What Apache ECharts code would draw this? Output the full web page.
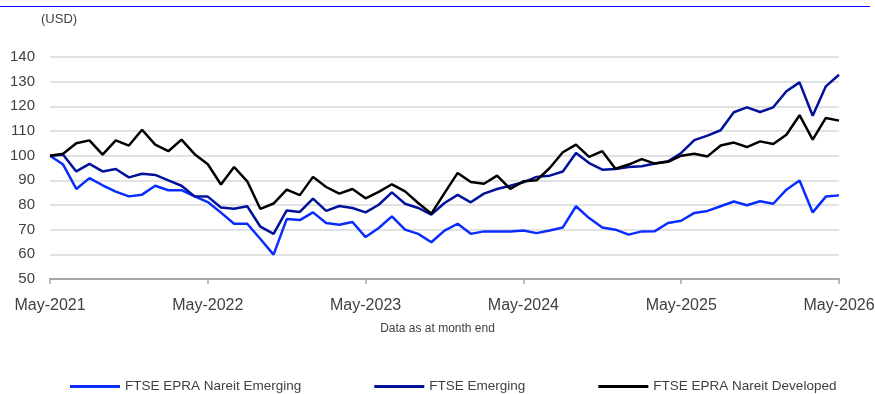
<!DOCTYPE html>
<html>
<head>
<meta charset="utf-8">
<script src="https://cdn.jsdelivr.net/npm/echarts@6/dist/echarts.min.js"></script>
<style>
  html, body { margin: 0; padding: 0; background: #fff; }
  #chart { width: 875px; height: 394px; }
</style>
</head>
<body>
<div id="chart"></div>
<script>
// Monthly index levels (USD, rebased to 100), May-2021 .. May-2026
const startYear = 2021;
const startMonth = 4; // May (0-based)
const monthNames = ['Jan','Feb','Mar','Apr','May','Jun','Jul','Aug','Sep','Oct','Nov','Dec'];
const pointCount = 61;

const nareitEmerging = [
  100, 96.4, 86.5, 90.9, 88.0, 85.4, 83.5, 84.2, 87.8, 86.0, 86.0, 83.5,
  81.2, 76.9, 72.4, 72.4, 66.2, 59.9, 74.3, 73.9, 77.0, 72.7, 72.0, 73.1,
  67.0, 70.7, 75.4, 70.0, 68.3, 64.9, 69.6, 72.4, 68.3, 69.3, 69.3, 69.3,
  69.7, 68.6, 69.7, 70.9, 79.5, 74.7, 70.9, 70.0, 68.0, 69.3, 69.4, 72.7,
  73.6, 76.8, 77.6, 79.5, 81.4, 79.9, 81.5, 80.5, 86.2, 89.9, 77.0, 83.4,
  83.9
];

const ftseEmerging = [
  100, 100.4, 93.6, 96.7, 93.6, 94.6, 91.2, 92.7, 92.2, 90.0, 87.8, 83.5,
  83.4, 79.0, 78.5, 79.5, 71.2, 68.3, 77.8, 77.2, 82.6, 77.6, 79.6, 78.8,
  77.0, 80.1, 85.1, 80.5, 78.8, 76.1, 80.8, 84.1, 81.1, 84.6, 86.5, 87.8,
  89.2, 91.4, 91.9, 93.6, 101.1, 97.0, 94.3, 94.6, 95.4, 95.7, 96.8, 97.7,
  101.1, 106.3, 108.1, 110.3, 117.6, 119.6, 117.7, 119.6, 126.1, 129.7, 116.2, 128.1,
  132.8
];

const nareitDeveloped = [
  100, 100.8, 105.0, 106.2, 100.4, 106.2, 104.1, 110.5, 104.5, 101.8, 106.5, 100.6,
  96.5, 88.3, 95.4, 89.6, 78.4, 80.6, 86.2, 84.0, 91.4, 87.3, 84.6, 86.5,
  82.7, 85.3, 88.4, 85.5, 80.8, 76.5, 84.8, 93.0, 89.3, 88.6, 91.9, 86.5,
  89.6, 90.0, 95.0, 101.4, 104.5, 99.5, 101.8, 94.7, 96.4, 98.6, 96.8, 97.5,
  100.0, 100.8, 99.7, 104.1, 105.3, 103.5, 105.8, 104.7, 108.5, 116.4, 106.5, 115.3,
  114.2
];

const seriesNames = ['FTSE EPRA Nareit Emerging', 'FTSE Emerging', 'FTSE EPRA Nareit Developed'];
const seriesColors = ['#0a2cff', '#00129a', '#000000'];
const yTicks = [50, 60, 70, 80, 90, 100, 110, 120, 130, 140];

// Month-end category labels, e.g. "May-2021"
const months = [];
for (let i = 0; i < pointCount; i++) {
  const m = startMonth + i;
  months.push(monthNames[m % 12] + '-' + (startYear + Math.floor(m / 12)));
}

const chart = echarts.init(document.getElementById('chart'));
const font = 'Liberation Sans, Arial, sans-serif';

const lineSeries = [nareitEmerging, ftseEmerging, nareitDeveloped].map((d, k) => ({
  name: seriesNames[k],
  type: 'line',
  data: d,
  symbol: 'none',
  smooth: false,
  lineStyle: { color: seriesColors[k], width: 2.5 },
  itemStyle: { color: seriesColors[k] },
  z: k === 2 ? 3 : (k === 1 ? 2 : 1)
}));

chart.setOption({
  animation: false,
  backgroundColor: '#ffffff',
  textStyle: { fontFamily: font },
  graphic: [
    { type: 'line', shape: { x1: 0, y1: 6.5, x2: 870, y2: 6.5 }, style: { stroke: '#0000ff', lineWidth: 1 } },
    { type: 'text', left: 41, top: 13, style: { text: '(USD)', font: '13px ' + font, fill: '#404040' } },
    { type: 'text', left: 'center', top: 323, style: { text: 'Data as at month end', font: '12px ' + font, fill: '#404040' } }
  ],
  grid: { left: 50, right: 36, top: 57, bottom: 115, outerBoundsMode: 'none', containLabel: false },
  legend: {
    top: 379,
    left: 70,
    padding: 0,
    itemWidth: 50,
    itemHeight: 3,
    itemGap: 73,
    icon: 'rect',
    textStyle: { fontSize: 13.5, lineHeight: 15, color: '#404040', fontFamily: font, padding: [0, 0, 0, 0] },
    data: seriesNames
  },
  xAxis: {
    type: 'category',
    data: months,
    boundaryGap: false,
    axisLine: { lineStyle: { color: '#a6a6a6', width: 2 } },
    axisTick: { show: true, interval: 11, length: 5, lineStyle: { color: '#a6a6a6', width: 1.5 } },
    axisLabel: { interval: 11, color: '#404040', fontSize: 16, margin: 19, fontFamily: font },
    splitLine: { show: false }
  },
  yAxis: {
    type: 'value',
    min: yTicks[0],
    max: yTicks[yTicks.length - 1],
    interval: 10,
    axisLine: { show: false },
    axisTick: { show: false },
    axisLabel: { color: '#404040', fontSize: 15, margin: 15, fontFamily: font },
    splitLine: { lineStyle: { color: '#d9d9d9', width: 1.5 } }
  },
  series: lineSeries
});
</script>
</body>
</html>
